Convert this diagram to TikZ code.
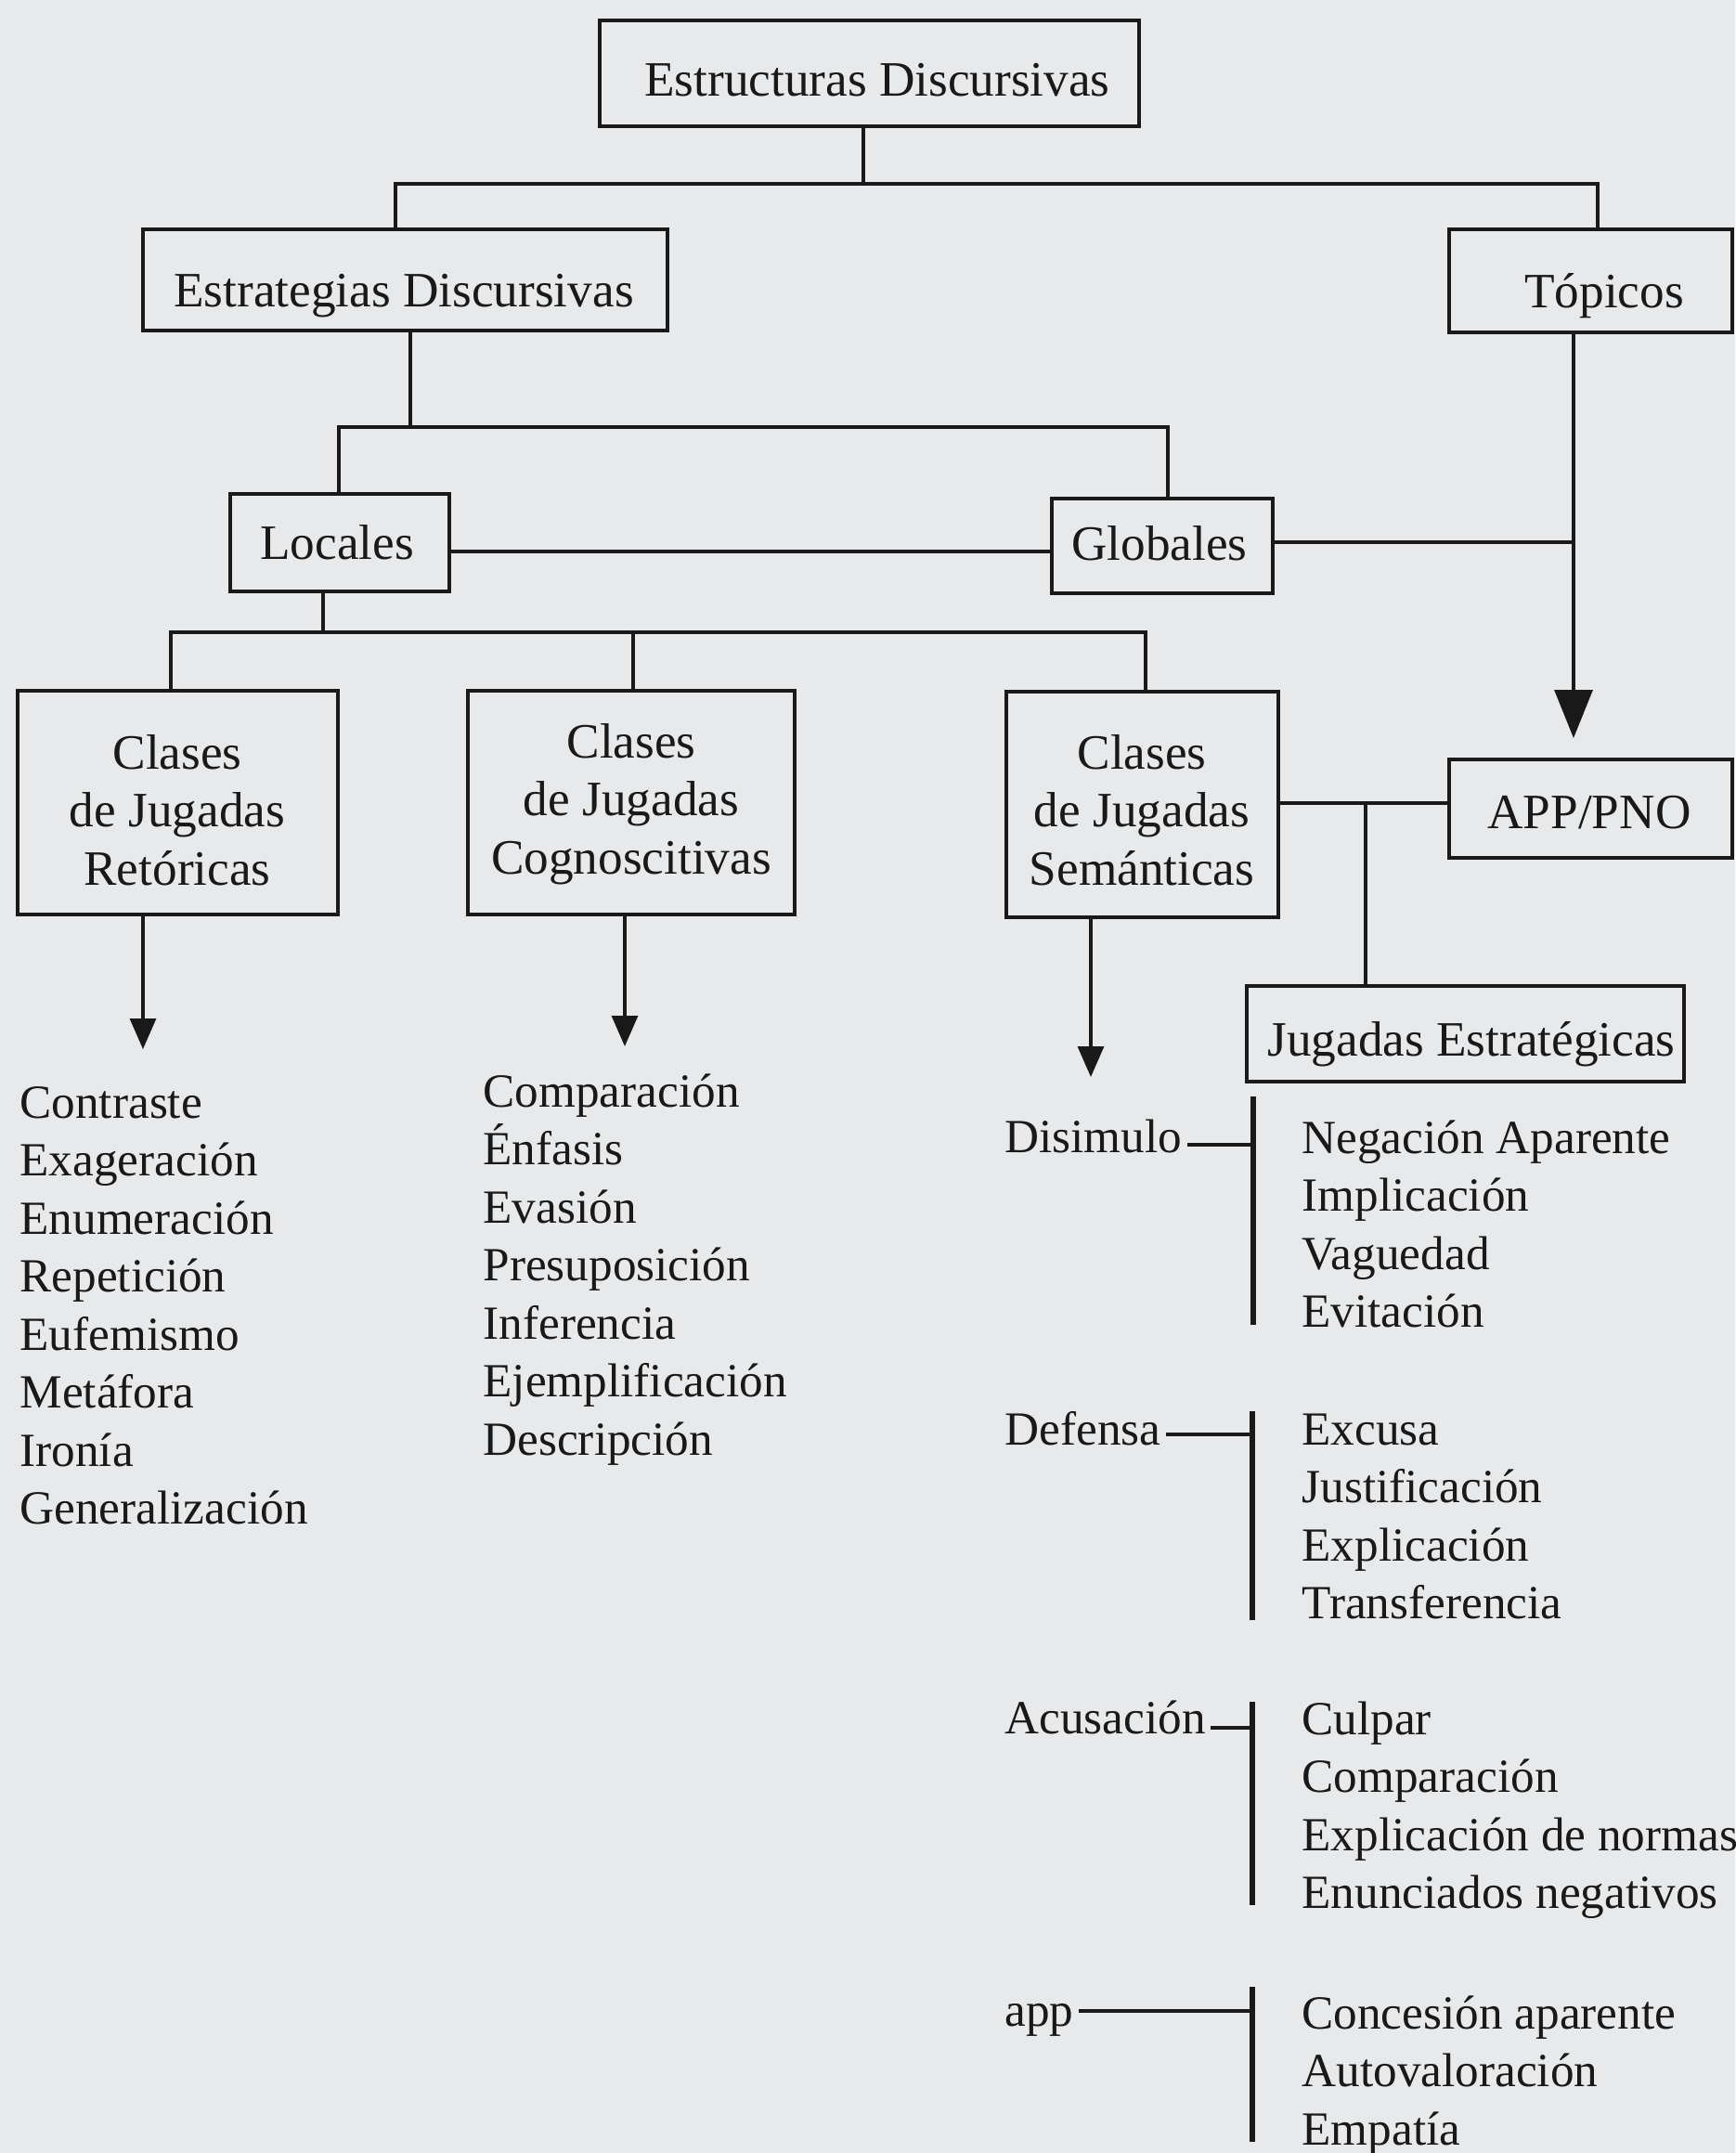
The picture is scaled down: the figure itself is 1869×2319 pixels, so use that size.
\documentclass[tikz,border=0pt]{standalone}
\usepackage{fontspec}
\setmainfont{Liberation Serif}
\usetikzlibrary{arrows.meta}
\definecolor{bgc}{RGB}{231,233,234}
\definecolor{ink}{RGB}{25,25,25}
\newcommand{\lst}[1]{\begin{tabular}[t]{@{}l@{}}#1\end{tabular}}
\newcommand{\ctr}[1]{\begin{tabular}[t]{@{}c@{}}#1\end{tabular}}
\begin{document}
\begin{tikzpicture}[x=0.4pt,y=-0.4pt,
  every node/.style={text=ink, font=\fontsize{20.5}{25}\selectfont},
  box/.style={draw=ink, line width=1.6pt, inner sep=0pt},
  btxt/.style={anchor=base, inner sep=0pt, font=\fontsize{21.3}{25}\selectfont},
  conn/.style={draw=ink, line width=1.3pt},
  arr/.style={conn, -{Triangle[width=11.2pt,length=13.2pt]}},
  bigarr/.style={conn, -{Triangle[width=16.4pt,length=20.8pt]}},
  brk/.style={draw=ink, line width=2.2pt},
  lbl/.style={anchor=base west, inner sep=0pt},
  ]
\fill[bgc] (0,0) rectangle (1869,2319);
\useasboundingbox (0,0) rectangle (1869,2319);

% boxes
\node[box, minimum width=232.4pt, minimum height=45.6pt] (A) at (936.5,79) {};
\node[box, minimum width=226pt, minimum height=43.6pt] (B) at (436.5,301.5) {};
\node[box, minimum width=122pt, minimum height=44.4pt] (T) at (1713.5,302.5) {};
\node[box, minimum width=94.4pt, minimum height=42pt] (Loc) at (366,584.5) {};
\node[box, minimum width=95.2pt, minimum height=40.8pt] (Glo) at (1252,588) {};
\node[box, minimum width=138pt, minimum height=96.4pt] (Ret) at (191.5,864.5) {};
\node[box, minimum width=140.8pt, minimum height=96.4pt] (Cog) at (680,864.5) {};
\node[box, minimum width=117.2pt, minimum height=97.2pt] (Sem) at (1230.5,866.5) {};
\node[box, minimum width=122pt, minimum height=42.4pt] (APP) at (1713.5,871) {};
\node[box, minimum width=188.4pt, minimum height=41.2pt] (JE) at (1578.5,1113.5) {};

% box texts
\node[btxt] (At) at (945,103.5) {Estructuras Discursivas};
\node[btxt] (Bt) at (435,330) {Estrategias Discursivas};
\node[btxt] (Tt) at (1728,331) {Tópicos};
\node[btxt] (Loct) at (363,602) {Locales};
\node[btxt] (Glot) at (1249,603) {Globales};
\node[btxt] (Rett) at (191,828) {\ctr{Clases\\de Jugadas\\Retóricas}};
\node[btxt] (Cogt) at (680,816) {\ctr{Clases\\de Jugadas\\Cognoscitivas}};
\node[btxt] (Semt) at (1230,828) {\ctr{Clases\\de Jugadas\\Semánticas}};
\node[btxt] (APPt) at (1712,892) {APP/PNO};
\node[btxt] (JEt) at (1585,1137) {Jugadas Estratégicas};

% junctions
\coordinate (j1) at (930,198);
\coordinate (j1L) at (426,198);
\coordinate (j1R) at (1721,198);
\coordinate (j2) at (442,460);
\coordinate (j2L) at (365,460);
\coordinate (j2R) at (1258,460);
\coordinate (jLG) at (1133,594);
\coordinate (j3) at (1695,584);
\coordinate (tT) at (1695,795);
\coordinate (j4) at (1471,865);
\coordinate (j5) at (348,681);
\coordinate (j5L) at (184,681);
\coordinate (j5M) at (682,681);
\coordinate (j5R) at (1234,681);
\coordinate (tRet) at (154,1130);
\coordinate (tCog) at (673,1127);
\coordinate (tSem) at (1175,1160);

% tree connectors
\draw[conn] (A.south -| j1) -- (j1);
\draw[conn] (B.north -| j1L) -- (j1L) -- (j1R) -- (T.north -| j1R);
\draw[conn] (B.south -| j2) -- (j2);
\draw[conn] (Loc.north -| j2L) -- (j2L) -- (j2R) -- (Glo.north -| j2R);
\draw[conn] (Loc.east |- jLG) -- (Glo.west |- jLG);
\draw[conn] (Glo.east |- j3) -- (j3);
\draw[bigarr] (T.south -| tT) -- (tT);
\draw[conn] (Sem.east |- j4) -- (APP.west |- j4);
\draw[conn] (j4) -- (JE.north -| j4);
\draw[conn] (Loc.south -| j5) -- (j5);
\draw[conn] (Ret.north -| j5L) -- (j5L) -- (j5R) -- (Sem.north -| j5R);
\draw[conn] (j5M) -- (Cog.north -| j5M);
\draw[arr] (Ret.south -| tRet) -- (tRet);
\draw[arr] (Cog.south -| tCog) -- (tCog);
\draw[arr] (Sem.south -| tSem) -- (tSem);

% lists
\node[lbl] (lRet) at (21,1204) {\lst{Contraste\\Exageración\\Enumeración\\Repetición\\Eufemismo\\Metáfora\\Ironía\\Generalización}};
\node[lbl] (lCog) at (520,1192) {\lst{Comparación\\Énfasis\\Evasión\\Presuposición\\Inferencia\\Ejemplificación\\Descripción}};

% strategic moves
\node[lbl] (dis) at (1082,1241) {Disimulo};
\node[lbl] (def) at (1082,1556) {Defensa};
\node[lbl] (acu) at (1082,1867) {Acusación};
\node[lbl] (app) at (1082,2182) {app};

\node[lbl] (ldis) at (1402,1242) {\lst{Negación Aparente\\Implicación\\Vaguedad\\Evitación}};
\node[lbl] (ldef) at (1402,1556) {\lst{Excusa\\Justificación\\Explicación\\Transferencia}};
\node[lbl] (lacu) at (1402,1868) {\lst{Culpar\\Comparación\\Explicación de normas\\Enunciados negativos}};
\node[lbl] (lapp) at (1402,2185) {\lst{Concesión aparente\\Autovaloración\\Empatía}};

\coordinate (b1t) at (1350,1181); \coordinate (b1m) at (1350,1233); \coordinate (b1b) at (1350,1427);
\coordinate (b2t) at (1349,1520); \coordinate (b2m) at (1349,1545); \coordinate (b2b) at (1349,1745);
\coordinate (b3t) at (1349,1833); \coordinate (b3m) at (1349,1861); \coordinate (b3b) at (1349,2052);
\coordinate (b4t) at (1349,2140); \coordinate (b4m) at (1349,2166); \coordinate (b4b) at (1349,2307);

\draw[brk] (b1t) -- (b1b);
\draw[brk] (b2t) -- (b2b);
\draw[brk] (b3t) -- (b3b);
\draw[brk] (b4t) -- (b4b);
\draw[conn, line width=1.5pt, shorten <=2pt] (dis.east |- b1m) -- (b1m);
\draw[conn, line width=1.5pt, shorten <=2pt] (def.east |- b2m) -- (b2m);
\draw[conn, line width=1.5pt, shorten <=2pt] (acu.east |- b3m) -- (b3m);
\draw[conn, line width=1.5pt, shorten <=2pt] (app.east |- b4m) -- (b4m);
\end{tikzpicture}
\end{document}
